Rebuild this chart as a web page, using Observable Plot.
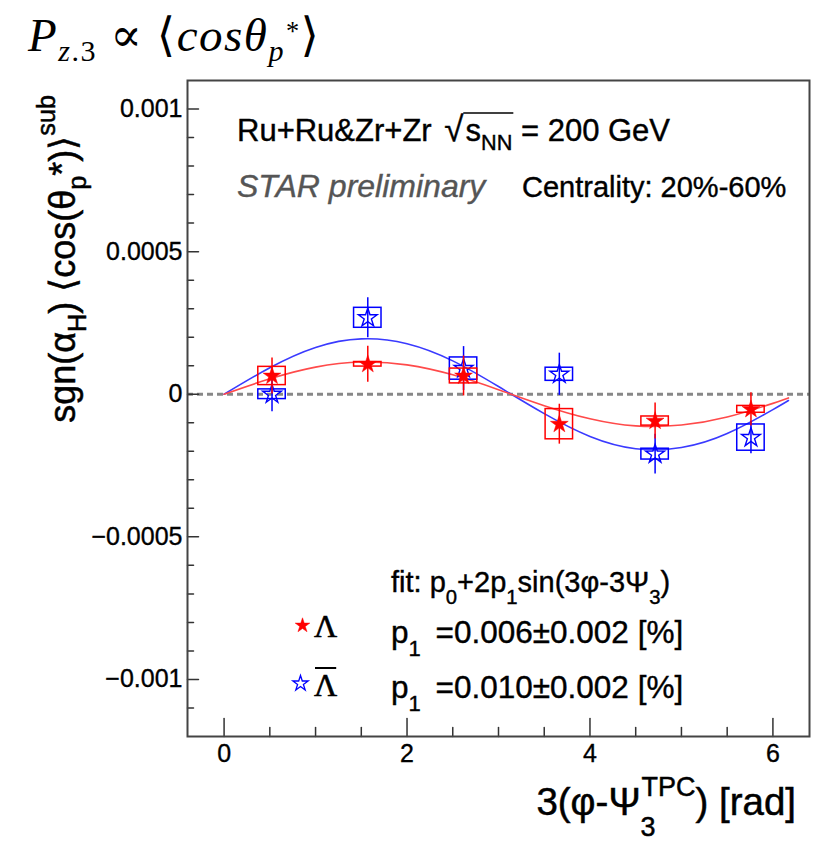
<!DOCTYPE html>
<html><head><meta charset="utf-8">
<script src="https://cdn.jsdelivr.net/npm/d3@7"></script>
<script src="https://cdn.jsdelivr.net/npm/@observablehq/plot@0.6"></script>
<style>
body{margin:0;background:#fff;}
#wrap{position:relative;width:821px;height:849px;overflow:hidden;background:#fff;}
#title{position:relative;height:70px;z-index:2;}
#title .t{position:absolute;left:28px;top:7px;font-family:"Liberation Serif","DejaVu Serif",serif;font-style:italic;font-size:47px;line-height:50px;letter-spacing:1.5px;white-space:nowrap;color:#000;}
#title .up{font-style:normal;}
#title .sb{font-size:0.64em;vertical-align:-0.32em;}
#title .sp{font-size:0.56em;vertical-align:0.42em;font-style:normal;margin-left:1px;}
#chart{position:relative;z-index:1;}
#chart svg g[aria-label$="tick label"] text{stroke:#000;stroke-width:0.35px;}
</style></head>
<body>
<div id="wrap">
  <div id="title"><div class="t">P<span class="sb">z<span class="up">.3</span></span><span class="up"> ∝ ⟨</span>cosθ<span class="sb">p</span><span class="sp">*</span><span class="up">⟩</span></div></div>
  <div id="chart"></div>
</div>
<script>
// ---- data ----
const xBins = [0.524, 1.571, 2.618, 3.665, 4.712, 5.760];
const lamVal  = [0.000064, 0.000105, 0.000064, -0.000105, -0.000094, -0.000053];
const lamStat = [0.000063, 0.000063, 0.000070, 0.000070, 0.000063, 0.000058];
const lamSys  = [0.000032, 0.000008, 0.000026, 0.000053, 0.000016, 0.000012];
const antiVal  = [0.000000, 0.000268, 0.000090, 0.000070, -0.000210, -0.000152];
const antiStat = [0.000061, 0.000070, 0.000077, 0.000074, 0.000070, 0.000057];
const antiSys  = [0.000017, 0.000035, 0.000039, 0.000023, 0.000019, 0.000046];
// fit curves
const fitX    = [0, 0.5, 1, 1.5, 2, 2.5, 3, 3.5, 4, 4.5, 5, 5.5, 6, 6.17];
const lamFit  = [0, 0.000054, 0.000095, 0.000113, 0.000103, 0.000068, 0.000016, -0.000040, -0.000086, -0.000111, -0.000108, -0.000080, -0.000032, -0.000013];
const antiFit = [0, 0.000093, 0.000164, 0.000194, 0.000177, 0.000117, 0.000027, -0.000068, -0.000148, -0.000191, -0.000187, -0.000138, -0.000054, -0.000022];
// ticks
const xMajor = [0, 2, 4, 6];
const xTickLabels = ["0", "2", "4", "6"];
const xMinor = [0.5, 1, 1.5, 2.5, 3, 3.5, 4.5, 5, 5.5];
const yMajor = [-0.001, -0.0005, 0, 0.0005, 0.001];
const yTickLabels = ["\u22120.001", "\u22120.0005", "0", "0.0005", "0.001"];
const yMinor = [-0.0011, -0.0009, -0.0008, -0.0007, -0.0006, -0.0004, -0.0003, -0.0002, -0.0001,
                0.0001, 0.0002, 0.0003, 0.0004, 0.0006, 0.0007, 0.0008, 0.0009];

// ---- tables ----
const lam = xBins.map((x, i) => ({x, y: lamVal[i], stat: lamStat[i], sys: lamSys[i]}));
const anti = xBins.map((x, i) => ({x, y: antiVal[i], stat: antiStat[i], sys: antiSys[i]}));
const lamCurve = fitX.map((x, i) => ({x, y: lamFit[i]}));
const antiCurve = fitX.map((x, i) => ({x, y: antiFit[i]}));

const FONT = "'Liberation Sans', Arial, Helvetica, sans-serif";
const RED = "#ff0000", BLUE = "#0000ff";
const boxHalf = 0.15;
const tickShape = {draw(ctx, l) { ctx.moveTo(0, 0); ctx.lineTo(0, -l); }};

function seriesMarks(data, color, filled) {
  return [
    Plot.rect(data, {x1: d => d.x - boxHalf, x2: d => d.x + boxHalf, y1: d => d.y - d.sys, y2: d => d.y + d.sys,
      fill: "none", stroke: color, strokeWidth: 1.5}),
    Plot.ruleX(data, {x: "x", y1: d => d.y - d.stat, y2: d => d.y + d.stat, stroke: color, strokeWidth: 1.5}),
    Plot.dot(data, {x: "x", y: "y", symbol: "star", r: filled ? 5.6 : 5.9, fill: filled ? color : "none",
      stroke: color, strokeWidth: filled ? 0.5 : 1.4})
  ];
}

const plot = Plot.plot({
  width: 821, height: 779,
  marginTop: 10, marginBottom: 113, marginLeft: 187, marginRight: 12,
  x: {domain: [-0.4, 6.4]},
  y: {domain: [-0.0012, 0.0011]},
  style: {fontFamily: FONT, fontSize: "25px", color: "#000", background: "transparent"},
  marks: [
    Plot.axisX({ticks: xMajor, tickSize: 0, tickPadding: 8, label: null, fontSize: 25,
      tickFormat: d => xTickLabels[xMajor.indexOf(d)]}),
    Plot.axisY({ticks: yMajor, tickSize: 0, tickPadding: 5, label: null, fontSize: 25,
      tickFormat: d => yTickLabels[yMajor.indexOf(d)]}),
    Plot.ruleY([0], {stroke: "#888", strokeWidth: 3, strokeDasharray: "6,4"}),
    Plot.line(antiCurve, {x: "x", y: "y", stroke: "#3a3aff", strokeWidth: 1.6, curve: "natural"}),
    Plot.line(lamCurve, {x: "x", y: "y", stroke: "#ff4a4a", strokeWidth: 1.6, curve: "natural"}),
    ...seriesMarks(anti, BLUE, false),
    ...seriesMarks(lam, RED, true),
    // inner ticks
    Plot.vector(yMajor, {y: d => d, frameAnchor: "left", length: 11, rotate: 90, anchor: "start", shape: tickShape, stroke: "#333", strokeWidth: 1.5}),
    Plot.vector(yMinor, {y: d => d, frameAnchor: "left", length: 6, rotate: 90, anchor: "start", shape: tickShape, stroke: "#333", strokeWidth: 1.5}),
    Plot.vector(xMajor, {x: d => d, frameAnchor: "bottom", length: 18, rotate: 0, anchor: "start", shape: tickShape, stroke: "#333", strokeWidth: 1.5}),
    Plot.vector(xMinor, {x: d => d, frameAnchor: "bottom", length: 9, rotate: 0, anchor: "start", shape: tickShape, stroke: "#333", strokeWidth: 1.5}),
    // legend markers
    Plot.dot([0], {frameAnchor: "top-left", dx: 115, dy: 545, symbol: "star", r: 4.6, fill: RED, stroke: RED, strokeWidth: 0.5}),
    Plot.dot([0], {frameAnchor: "top-left", dx: 113, dy: 603, symbol: "star", r: 4.8, fill: "none", stroke: BLUE, strokeWidth: 1.3}),
    Plot.frame({stroke: "#444", strokeWidth: 2})
  ]
});
document.getElementById("chart").appendChild(plot);

// ---- rich text annotations ----
const svg = d3.select(plot);
const OY = 70; // svg top in page coords
function rich(x, y, parts, o = {}) {
  const size = o.size || 28;
  const fill = o.fill || "#000";
  const t = svg.append("text")
    .attr("font-family", o.family || FONT)
    .attr("font-size", size)
    .attr("fill", fill)
    .attr("stroke", fill)
    .attr("stroke-width", o.sw ?? 0.4)
    .attr("text-anchor", o.anchor || "start");
  if (o.italic) t.attr("font-style", "italic");
  if (o.rotate) t.attr("transform", `translate(${x},${y - OY}) rotate(${o.rotate})`);
  else t.attr("x", x).attr("y", y - OY);
  let cur = 0;
  const spans = [];
  for (const p of parts) {
    const s = typeof p === "string" ? {t: p} : p;
    const off = s.sub ? size * (s.off ?? 0.3) : s.sup ? -size * (s.off ?? 0.45) : 0;
    const ts = t.append("tspan").text(s.t).attr("dy", off - cur);
    cur = off;
    if (s.sub || s.sup) ts.attr("font-size", size * 0.7);
    if (s.size) ts.attr("font-size", s.size);
    if (s.dx) ts.attr("dx", s.dx);
    if (s.family) ts.attr("font-family", s.family);
    spans.push(ts);
  }
  return {t, spans};
}

const r1 = rich(237, 141, ["Ru+Ru&Zr+Zr ", {t: "\u221A", dx: 4, size: 35}, {t: "s", dx: 2}, {t: "NN", sub: true}, {t: " = 200 GeV"}], {size: 31});
{
  const a = r1.spans[1].node().getBBox();
  const b = r1.spans[3].node().getBBox();
  svg.append("line").attr("x1", a.x + a.width - 1).attr("x2", b.x + b.width + 1)
    .attr("y1", a.y + 4).attr("y2", a.y + 4).attr("stroke", "#000").attr("stroke-width", 1.3);
}
rich(237, 197, ["STAR preliminary"], {size: 32, italic: true, fill: "#555"});
rich(522, 197, ["Centrality: 20%-60%"], {size: 29});

rich(391, 592, ["fit: p", {t: "0", sub: true, off: 0.4}, "+2p", {t: "1", sub: true, off: 0.4}, "sin(3\u03C6-3\u03A8", {t: "3", sub: true, off: 0.4}, ")"], {size: 29});
rich(391, 643, ["p", {t: "1", sub: true, off: 0.4}, {t: " =0.006\u00B10.002 [%]", dx: 6}], {size: 31.5});
rich(391, 698, ["p", {t: "1", sub: true, off: 0.4}, {t: " =0.010\u00B10.002 [%]", dx: 6}], {size: 31.5});

rich(314, 637, ["\u039B"], {size: 32, family: "'Liberation Serif', 'DejaVu Serif', serif", sw: 0.6});
const lb = rich(314, 696, ["\u039B"], {size: 32, family: "'Liberation Serif', 'DejaVu Serif', serif", sw: 0.6});
{
  const b = lb.t.node().getBBox();
  svg.append("line").attr("x1", b.x + 1).attr("x2", b.x + b.width - 1)
    .attr("y1", 668 - OY).attr("y2", 668 - OY).attr("stroke", "#000").attr("stroke-width", 2);
}

// axis titles
rich(75, 95, ["sgn(\u03B1", {t: "H", sub: true}, ") \u27E8cos(\u03B8", {t: "p", sub: true}, {t: "*"}, ")\u27E9", {t: "sub", sup: true, off: 0.55}],
  {size: 36, anchor: "end", rotate: -90, sw: 0.5});
rich(796, 815, ["3(\u03C6-\u03A8", {t: "3", sub: true, off: 0.55}, {t: "TPC", sup: true, off: 0.5, dx: -14}, ") [rad]"],
  {size: 38.5, anchor: "end", sw: 0.5});
</script>
</body></html>
